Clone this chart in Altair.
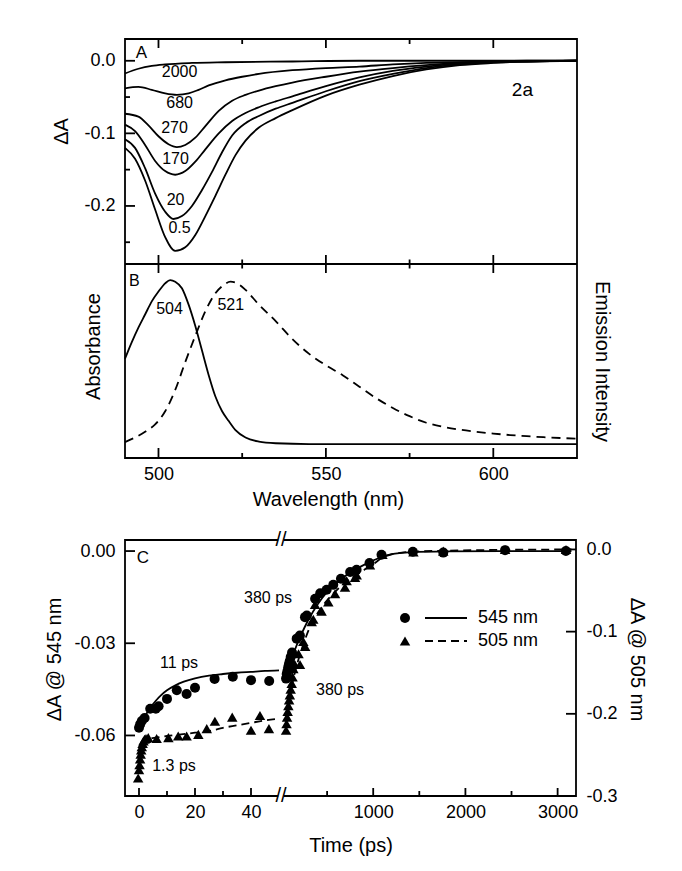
import altair as alt
import pandas as pd

FONT = "Liberation Sans"
INK = "black"
LW = 1.8

# ---------------- Panel A : transient spectra (delay, ps) ----------------
delays = ["0.5", "20", "170", "270", "680", "2000"]
wl_05 = [490, 493, 496, 499, 502, 505, 508, 511, 514, 517, 520, 523, 526, 530, 535, 540, 550, 560, 570, 580, 590, 600, 610, 625]
dA_05 = [-0.120, -0.135, -0.165, -0.205, -0.243, -0.262, -0.257, -0.240, -0.214, -0.186, -0.157, -0.130, -0.110, -0.092, -0.079, -0.068, -0.048, -0.033, -0.021, -0.012, -0.006, -0.003, -0.001, 0.0]
wl_20 = [490, 493, 496, 499, 502, 504.5, 507, 510, 513, 516, 519, 522, 526, 530, 535, 540, 550, 560, 570, 580, 590, 600, 610, 625]
dA_20 = [-0.108, -0.120, -0.148, -0.183, -0.208, -0.218, -0.214, -0.200, -0.178, -0.153, -0.126, -0.103, -0.086, -0.076, -0.066, -0.058, -0.042, -0.028, -0.018, -0.010, -0.005, -0.002, -0.001, 0.0]
wl_170 = [490, 493, 496, 499, 502, 505, 508, 511, 514, 518, 522, 526, 530, 535, 540, 550, 560, 570, 580, 590, 600, 610, 625]
dA_170 = [-0.088, -0.097, -0.116, -0.138, -0.152, -0.157, -0.152, -0.139, -0.122, -0.100, -0.083, -0.072, -0.064, -0.056, -0.049, -0.035, -0.023, -0.014, -0.008, -0.004, -0.002, -0.001, 0.0]
wl_270 = [490, 494, 497, 500, 503, 505.5, 508, 511, 514, 518, 522, 526, 530, 535, 540, 550, 560, 570, 580, 590, 600, 610, 625]
dA_270 = [-0.073, -0.077, -0.089, -0.104, -0.115, -0.119, -0.116, -0.106, -0.090, -0.069, -0.055, -0.047, -0.041, -0.035, -0.030, -0.022, -0.015, -0.010, -0.006, -0.003, -0.001, 0.0, 0.0]
wl_680 = [490, 494, 498, 502, 505.5, 509, 512, 515, 520, 525, 530, 540, 550, 560, 570, 580, 590, 600, 625]
dA_680 = [-0.038, -0.036, -0.040, -0.045, -0.047, -0.045, -0.040, -0.034, -0.027, -0.022, -0.018, -0.013, -0.010, -0.008, -0.005, -0.003, -0.002, -0.001, 0.0]
wl_2000 = [490, 494, 498, 502, 510, 520, 540, 560, 625]
dA_2000 = [-0.0175, -0.011, -0.007, -0.005, -0.003, -0.002, -0.001, 0.0, 0.0]
A_wl = [wl_05, wl_20, wl_170, wl_270, wl_680, wl_2000]
A_dA = [dA_05, dA_20, dA_170, dA_270, dA_680, dA_2000]

A_lab_text = ["2000", "680", "270", "170", "20", "0.5"]
A_lab_wl = [506.3, 506.3, 504.8, 505.1, 505.1, 506.3]
A_lab_dA = [-0.0152, -0.058, -0.0924, -0.135, -0.192, -0.230]

# ---------------- Panel B : absorbance / emission ----------------
abs_wl = [490, 492, 494, 496, 498, 500, 502, 503.5, 505, 507, 509, 511, 513, 515, 517, 519, 521, 523, 526, 530, 535, 545, 560, 625]
abs_val = [0.52, 0.62, 0.71, 0.79, 0.87, 0.93, 0.98, 1.0, 0.99, 0.95, 0.85, 0.72, 0.57, 0.42, 0.29, 0.20, 0.14, 0.085, 0.04, 0.015, 0.005, 0.0, 0.0, 0.0]
em_wl = [490, 493, 496, 499, 502, 505, 508, 511, 514, 517, 519.5, 521.5, 523.5, 526, 530, 535, 540, 545, 550, 555, 560, 565, 570, 575, 580, 585, 590, 595, 600, 605, 610, 615, 620, 625]
em_val = [0.012, 0.04, 0.075, 0.12, 0.2, 0.33, 0.5, 0.66, 0.81, 0.92, 0.97, 0.99, 0.98, 0.94, 0.85, 0.75, 0.64, 0.55, 0.48, 0.42, 0.35, 0.28, 0.22, 0.17, 0.13, 0.105, 0.088, 0.075, 0.064, 0.055, 0.048, 0.042, 0.037, 0.033]

# ---------------- Panel C : kinetics ----------------
series = ["545 nm", "505 nm"]
t545_early = [0, 0.4, 1, 2, 4, 6, 7, 10, 13.5, 17, 20, 27, 33.5, 40, 46.5]
v545_early = [-0.0575, -0.0564, -0.0553, -0.0543, -0.0513, -0.0513, -0.0505, -0.0481, -0.0453, -0.0465, -0.0445, -0.0416, -0.0409, -0.0420, -0.0423]
t545_late = [55, 62, 70, 78, 86, 95, 105, 120, 170, 205, 260, 280, 370, 425, 495, 567, 650, 750, 820, 960, 1090, 1430, 1760, 2430, 3090]
v545_late = [-0.0415, -0.0400, -0.0390, -0.0378, -0.0368, -0.0358, -0.0345, -0.0330, -0.0285, -0.0275, -0.0215, -0.0210, -0.0155, -0.0137, -0.0126, -0.0110, -0.0090, -0.0068, -0.0061, -0.0039, -0.0012, -0.0002, -0.0005, 0.0003, 0.0]
t505_early = [-0.3, 0, 0.2, 0.4, 0.6, 0.8, 1.0, 1.3, 1.6, 2.0, 2.5, 3.3, 6.3, 10.5, 14, 17, 21.2, 24.2, 27.1, 33.3, 40, 43.2, 46.4]
v505_early = [-0.278, -0.268, -0.262, -0.255, -0.249, -0.244, -0.240, -0.236, -0.233, -0.231, -0.230, -0.229, -0.230, -0.229, -0.227, -0.227, -0.225, -0.218, -0.209, -0.204, -0.220, -0.202, -0.218]
t505_late = [55, 60, 66, 72, 80, 88, 96, 105, 116, 125, 134, 150, 190, 206, 242, 262, 333, 350, 369, 440, 513, 586, 694, 712, 803, 821, 965, 1100, 1436, 1760, 2430, 3091]
v505_late = [-0.220, -0.212, -0.204, -0.197, -0.190, -0.183, -0.177, -0.170, -0.163, -0.155, -0.145, -0.140, -0.127, -0.140, -0.112, -0.118, -0.088, -0.085, -0.067, -0.075, -0.064, -0.054, -0.046, -0.038, -0.034, -0.031, -0.019, -0.006, -0.003, -0.002, 0.0, 0.0]

fit545_early_t = [0, 2, 4, 6, 8, 10, 13, 16, 20, 25, 30, 35, 40, 45, 50]
fit545_early_v = [-0.0575, -0.0540, -0.0510, -0.0487, -0.0468, -0.0453, -0.0437, -0.0425, -0.0414, -0.0405, -0.0400, -0.0396, -0.0393, -0.0390, -0.0388]
fit545_late_t = [50, 75, 100, 150, 200, 250, 300, 400, 500, 600, 700, 800, 900, 1000, 1100, 1200, 1400, 1800, 2400, 3150]
fit545_late_v = [-0.0415, -0.0390, -0.0365, -0.0322, -0.0285, -0.0252, -0.0222, -0.0172, -0.0133, -0.0103, -0.0080, -0.0061, -0.0045, -0.0031, -0.0018, -0.0010, -0.0004, -0.0001, 0.0, 0.0]
fit505_early_t = [0, 0.5, 1, 1.5, 2, 3, 4, 6, 10, 15, 20, 25, 30, 35, 40, 45, 50]
fit505_early_v = [-0.272, -0.258, -0.248, -0.241, -0.237, -0.232, -0.230, -0.229, -0.227, -0.225, -0.223, -0.221, -0.217, -0.214, -0.211, -0.208, -0.206]
fit505_late_t = [50, 75, 100, 150, 200, 250, 300, 400, 500, 600, 700, 800, 900, 1000, 1100, 1200, 1400, 1800, 2400, 3150]
fit505_late_v = [-0.215, -0.195, -0.176, -0.150, -0.130, -0.113, -0.098, -0.077, -0.062, -0.050, -0.040, -0.032, -0.025, -0.018, -0.010, -0.006, -0.003, -0.0015, -0.0005, 0.0]

C_lab_text = ["380 ps", "11 ps", "380 ps", "1.3 ps"]
C_lab_t = [46.1, 14.3, 71.8, 12.5]
C_lab_v = [-0.0153, -0.0364, -0.0452, -0.0699]

# broken time axis: 0-50 ps linear on the left, 0-3200 ps compressed on the right
U0, K = 50.714, 0.03293
def to_u(ts, late):
    return [U0 + K * t if late else t for t in ts]

x_major_left = [0, 20, 40]
x_minor_left = [10, 30]
x_major_right = [1000, 2000, 3000]
x_minor_right = [500, 1500, 2500]

# ---------------- sizes ----------------
WA, HA, HB = 452, 225, 194
HAB = HA + HB
WC, HC = 451, 256

def rule_x(vals, field, scale, ax, y0, y1):
    return alt.Chart(pd.DataFrame({field: vals})).mark_rule(color=INK, strokeWidth=LW).encode(
        x=alt.X(f"{field}:Q", scale=scale, axis=ax), y=alt.value(y0), y2=alt.value(y1))

def rule_y(vals, field, scale, x0, x1):
    return alt.Chart(pd.DataFrame({field: vals})).mark_rule(color=INK, strokeWidth=LW).encode(
        y=alt.Y(f"{field}:Q", scale=scale, axis=None), x=alt.value(x0), x2=alt.value(x1))

def txt(df, xf, yf, xs, ax, ys, size, **kw):
    return alt.Chart(df).mark_text(font=FONT, fontSize=size, color=INK, align="center", baseline="middle", **kw).encode(
        x=alt.X(f"{xf}:Q", scale=xs, axis=ax), y=alt.Y(f"{yf}:Q", scale=ys, axis=None), text="t:N")

neg_fmt = lambda f, z: f"datum.value == 0 ? '{z}' : '-' + format(abs(datum.value), '{f}')"

# ================= Panels A + B (one view, two stacked y ranges) =================
sx = alt.Scale(domain=[490, 625], nice=False, zero=False)
syA = alt.Scale(domain=[-0.28, 0.03], range=[HA, 0], nice=False, zero=False)
syB = alt.Scale(domain=[-0.085, 1.098], range=[HAB, HA], nice=False, zero=False)
xaxB = alt.Axis(values=[500, 550, 600], format="d", title="Wavelength (nm)", labelPadding=7,
                titlePadding=6, titleX=203, titleAlign="center", labelFlush=False)

dfA = pd.concat([pd.DataFrame({"wl": w, "dA": v, "delay": d}) for w, v, d in zip(A_wl, A_dA, delays)])
A_lines = alt.Chart(dfA).mark_line(color=INK, strokeWidth=LW, interpolate="monotone").encode(
    x=alt.X("wl:Q", scale=sx, axis=xaxB),
    y=alt.Y("dA:Q", scale=syA, axis=alt.Axis(orient="left", values=[0, -0.1, -0.2], labelExpr=neg_fmt(".1f", "0.0"),
                                            title="ΔA", titlePadding=12, labelPadding=10, titleY=92)),
    detail="delay:N")
A_labels = txt(pd.DataFrame({"wl": A_lab_wl, "dA": A_lab_dA, "t": A_lab_text}), "wl", "dA", sx, xaxB, syA, 16)
A_letter = txt(pd.DataFrame({"wl": [494.9], "dA": [0.011], "t": ["A"]}), "wl", "dA", sx, xaxB, syA, 17)
A_tag = txt(pd.DataFrame({"wl": [608.7], "dA": [-0.040], "t": ["2a"]}), "wl", "dA", sx, xaxB, syA, 19)

B_abs = alt.Chart(pd.DataFrame({"wl": abs_wl, "a": abs_val})).mark_line(
    color=INK, strokeWidth=LW, interpolate="monotone").encode(
    x=alt.X("wl:Q", scale=sx, axis=xaxB),
    y=alt.Y("a:Q", scale=syB, axis=alt.Axis(orient="left", labels=False, title="Absorbance",
                                           titlePadding=22, titleY=307)))
B_labels = txt(pd.DataFrame({"wl": [492.8, 503.3, 521.6], "a": [0.994, 0.823, 0.848], "t": ["B", "504", "521"]}),
               "wl", "a", sx, xaxB, syB, 16)
B_em = alt.Chart(pd.DataFrame({"wl": em_wl, "e": em_val})).mark_line(
    color=INK, strokeWidth=LW, strokeDash=[9, 6], interpolate="monotone").encode(
    x=alt.X("wl:Q", scale=sx, axis=xaxB),
    y=alt.Y("e:Q", scale=syB, axis=alt.Axis(orient="right", labels=False, title="Emission Intensity", titlePadding=14)))

panelAB = alt.layer(
    A_lines, A_labels, A_letter, A_tag,
    rule_y([0, -0.1, -0.2], "dA", syA, 0, 10), rule_y([-0.05, -0.15, -0.25], "dA", syA, 0, 5),
    B_abs, B_labels, B_em,
    rule_x([500, 550, 600], "wl", sx, xaxB, 0, 9), rule_x([525, 575], "wl", sx, xaxB, 0, 5),
    rule_x([500, 550, 600], "wl", sx, xaxB, HA - 9, HA + 9), rule_x([525, 575], "wl", sx, xaxB, HA - 4.5, HA + 4.5),
    rule_x([500, 550, 600], "wl", sx, xaxB, HAB - 10, HAB), rule_x([525, 575], "wl", sx, xaxB, HAB - 5, HAB),
    alt.Chart(pd.DataFrame({"k": [0]})).mark_rule(color=INK, strokeWidth=LW).encode(
        y=alt.value(HA), x=alt.value(0), x2=alt.value(WA)),
).resolve_scale(y="independent").properties(width=WA, height=HAB)

# ================= Panel C =================
su = alt.Scale(domain=[-5, 156.07], nice=False, zero=False)
s545 = alt.Scale(domain=[-0.0797, 0.0036], range=[HC, 0], nice=False, zero=False)
s505 = alt.Scale(domain=[-0.3, 0.0115], range=[HC, 0], nice=False, zero=False)
u_major = x_major_left + to_u(x_major_right, True)
u_minor = x_minor_left + to_u(x_minor_right, True)
xaxC = alt.Axis(values=u_major, title="Time (ps)", labelPadding=7, titlePadding=14, labelFlush=False,
                labelExpr=f"datum.value < 45 ? format(datum.value, 'd') : format(round((datum.value - {U0}) / {K} / 500) * 500, 'd')")

pts545 = pd.DataFrame({"u": to_u(t545_early, False) + to_u(t545_late, True), "v545": v545_early + v545_late})
fit545 = pd.concat([pd.DataFrame({"u": to_u(fit545_early_t, False), "v545": fit545_early_v, "seg": "e"}),
                    pd.DataFrame({"u": to_u(fit545_late_t, True), "v545": fit545_late_v, "seg": "l"})])
pts505 = pd.DataFrame({"u": to_u(t505_early, False) + to_u(t505_late, True), "v505": v505_early + v505_late})
fit505 = pd.concat([pd.DataFrame({"u": to_u(fit505_early_t, False), "v505": fit505_early_v, "seg": "e"}),
                    pd.DataFrame({"u": to_u(fit505_late_t, True), "v505": fit505_late_v, "seg": "l"})])

C_fit545 = alt.Chart(fit545).mark_line(color=INK, strokeWidth=LW, interpolate="monotone").encode(
    x=alt.X("u:Q", scale=su, axis=xaxC),
    y=alt.Y("v545:Q", scale=s545, axis=alt.Axis(orient="left", values=[0, -0.03, -0.06], labelExpr=neg_fmt(".2f", "0.00"),
                                               title="ΔA @ 545 nm", labelPadding=10, titlePadding=9, titleY=119)),
    detail="seg:N")
C_pts545 = alt.Chart(pts545).mark_point(shape="circle", filled=True, size=100, color=INK, opacity=1).encode(
    x=alt.X("u:Q", scale=su, axis=xaxC), y=alt.Y("v545:Q", scale=s545, axis=None))
C_labels = txt(pd.DataFrame({"u": C_lab_t, "v545": C_lab_v, "t": C_lab_text}), "u", "v545", su, xaxC, s545, 16)
C_letter = txt(pd.DataFrame({"u": [1.43], "v545": [-0.0023], "t": ["C"]}), "u", "v545", su, xaxC, s545, 17)

# axis-break marks on the top and bottom frame
brk = pd.DataFrame({"u": [U0], "t": ["//"]})
gap = pd.DataFrame({"u": [U0 - 1.0], "u2": [U0 + 1.0]})
C_gaps = [alt.Chart(gap).mark_rule(color="white", strokeWidth=4).encode(
    x=alt.X("u:Q", scale=su, axis=xaxC), x2="u2:Q", y=alt.value(yy)) for yy in (0, HC)]
C_brks = [alt.Chart(brk).mark_text(font=FONT, fontSize=20, color=INK).encode(
    x=alt.X("u:Q", scale=su, axis=xaxC), y=alt.value(yy), text="t:N") for yy in (0, HC)]

C_fit505 = alt.Chart(fit505).mark_line(color=INK, strokeWidth=LW, strokeDash=[8, 5], interpolate="monotone").encode(
    x=alt.X("u:Q", scale=su, axis=xaxC),
    y=alt.Y("v505:Q", scale=s505, axis=alt.Axis(orient="right", values=[0, -0.1, -0.2, -0.3], labelExpr=neg_fmt(".1f", "0.0"),
                                               title="ΔA @ 505 nm", labelPadding=10, titlePadding=9, titleY=119)),
    detail="seg:N")
C_pts505 = alt.Chart(pts505).mark_point(shape="triangle-up", filled=True, size=110, color=INK, opacity=1).encode(
    x=alt.X("u:Q", scale=su, axis=xaxC), y=alt.Y("v505:Q", scale=s505, axis=None))

one = pd.DataFrame({"k": [0]})
leg = [
    alt.Chart(one).mark_point(shape="circle", filled=True, size=100, color=INK, opacity=1).encode(x=alt.value(280), y=alt.value(78)),
    alt.Chart(one).mark_point(shape="triangle-up", filled=True, size=110, color=INK, opacity=1).encode(x=alt.value(280), y=alt.value(101)),
    alt.Chart(one).mark_rule(color=INK, strokeWidth=LW).encode(x=alt.value(300), x2=alt.value(342), y=alt.value(78)),
    alt.Chart(one).mark_rule(color=INK, strokeWidth=LW, strokeDash=[8, 5]).encode(x=alt.value(300), x2=alt.value(342), y=alt.value(101)),
    alt.Chart(one).mark_text(font=FONT, fontSize=18, color=INK, align="left", baseline="middle").encode(
        x=alt.value(353), y=alt.value(78), text=alt.value(series[0])),
    alt.Chart(one).mark_text(font=FONT, fontSize=18, color=INK, align="left", baseline="middle").encode(
        x=alt.value(353), y=alt.value(101), text=alt.value(series[1])),
]

panelC = alt.layer(
    C_fit545, C_fit505, C_pts545, C_pts505, C_labels, C_letter,
    rule_y([0, -0.03, -0.06], "v545", s545, 0, 10),
    rule_y([0, -0.1, -0.2], "v505", s505, WC - 10, WC),
    rule_x(u_major, "u", su, xaxC, HC - 8, HC), rule_x(u_minor, "u", su, xaxC, HC - 5, HC),
    *C_gaps, *C_brks, *leg,
).resolve_scale(y="independent").properties(width=WC, height=HC)

chart = alt.vconcat(panelAB, panelC, spacing=19).properties(
    padding={"left": 36, "top": 29, "right": 5, "bottom": 5}
).configure_view(stroke=INK, strokeWidth=LW).configure_axis(
    domain=False, ticks=False, grid=False, labelFont=FONT, labelFontSize=18, labelColor=INK,
    titleFont=FONT, titleFontSize=20, titleFontWeight="normal", titleColor=INK)

chart.save("out.html", embed_options={"renderer": "svg", "actions": False})
